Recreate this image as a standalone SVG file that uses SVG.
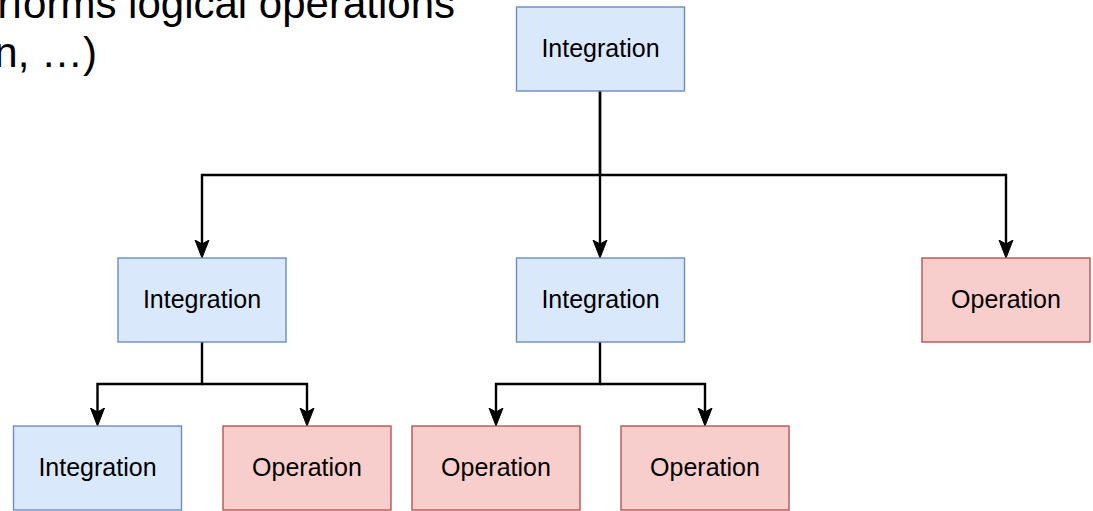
<svg xmlns="http://www.w3.org/2000/svg" width="1093" height="511" viewBox="0 0 1093 511">
<style>
.integ rect { fill: #dae8fc; stroke: #6c8ebf; stroke-width: 1.4; }
.oper rect { fill: #f8cecc; stroke: #b85450; stroke-width: 1.4; }
.node text { font-family: "Liberation Sans", Arial, Helvetica, sans-serif; font-size: 25px; fill: #000; text-anchor: middle; }
.edge { fill: none; stroke: #000; stroke-width: 2.4; marker-end: url(#arrow); }
.note { font-family: "Liberation Sans", Arial, Helvetica, sans-serif; font-size: 42px; fill: #000; text-anchor: end; }
</style>
<defs>
<marker id="arrow" markerUnits="userSpaceOnUse" viewBox="0 0 20 16" markerWidth="20" markerHeight="16" refX="10" refY="8" orient="auto">
<path d="M18,8 L0,1 L4,8 L0,15 Z" fill="#000" stroke="#000" stroke-width="1"/>
</marker>
</defs>
<g id="note">
<text class="note" x="455" y="18">rforms logical operations</text>
<text class="note" x="97" y="67">n, …)</text>
</g>
<g id="connectors">
<path class="edge" d="M600,91 V175 H202 V250"/>
<path class="edge" d="M600,91 V250"/>
<path class="edge" d="M600,175 H1006 V250"/>
<path class="edge" d="M202,342 V384 H97.5 V418"/>
<path class="edge" d="M202,384 H307 V418"/>
<path class="edge" d="M600,342 V384 H496 V418"/>
<path class="edge" d="M600,384 H705 V418"/>
</g>
<g id="n-top" class="node integ"><rect x="516.5" y="7" width="168" height="84"/><text x="600.5" y="57">Integration</text></g>
<g id="n-mid-left" class="node integ"><rect x="118" y="258" width="168" height="84"/><text x="202" y="308">Integration</text></g>
<g id="n-mid-center" class="node integ"><rect x="516.5" y="258" width="168" height="84"/><text x="600.5" y="308">Integration</text></g>
<g id="n-mid-right" class="node oper"><rect x="922" y="258" width="168" height="84"/><text x="1006" y="308">Operation</text></g>
<g id="n-bot-1" class="node integ"><rect x="13.5" y="426" width="168" height="84"/><text x="97.5" y="476">Integration</text></g>
<g id="n-bot-2" class="node oper"><rect x="223" y="426" width="168" height="84"/><text x="307" y="476">Operation</text></g>
<g id="n-bot-3" class="node oper"><rect x="412" y="426" width="168" height="84"/><text x="496" y="476">Operation</text></g>
<g id="n-bot-4" class="node oper"><rect x="621" y="426" width="168" height="84"/><text x="705" y="476">Operation</text></g>
</svg>
